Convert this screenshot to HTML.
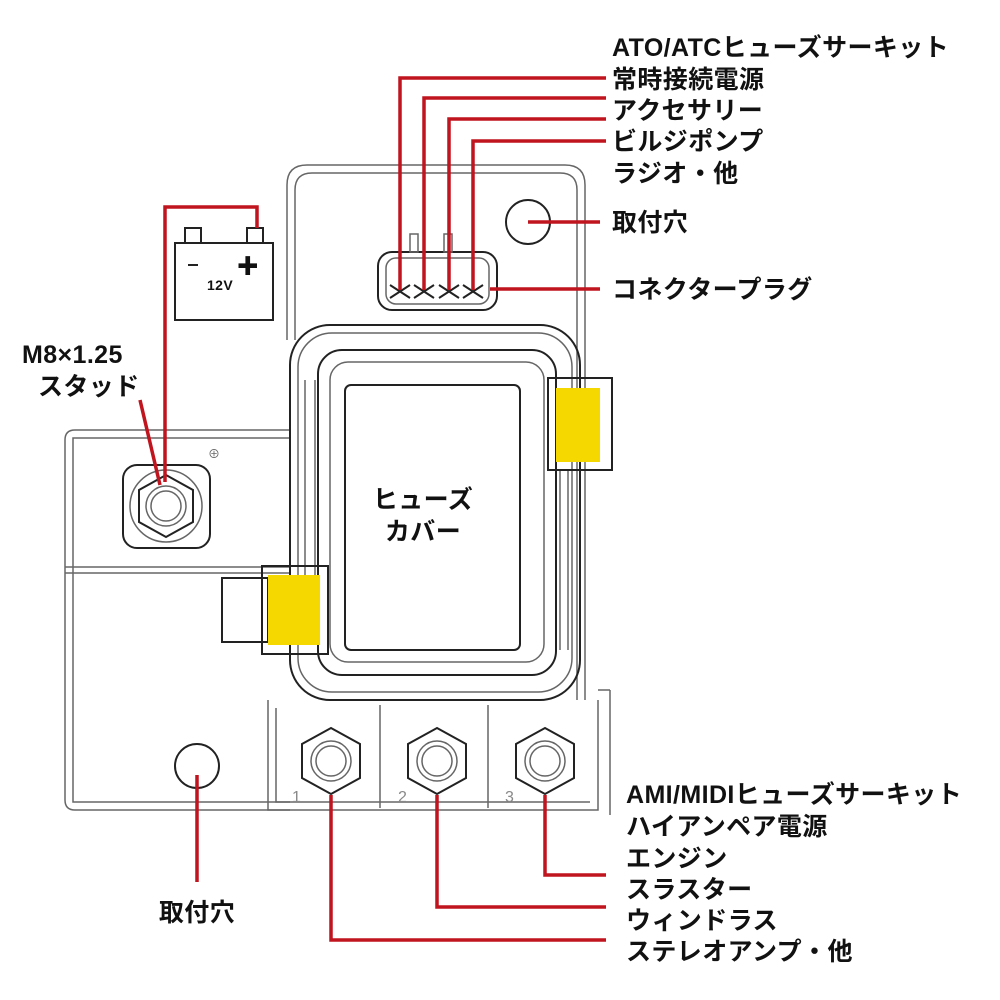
<!DOCTYPE html>
<html><head><meta charset="utf-8"><style>
body{margin:0;background:#fff}
svg{display:block}
text{font-family:"Liberation Sans","Noto Sans CJK JP",sans-serif;font-size:25px;font-weight:bold;fill:#111;letter-spacing:0.4px}
.g{fill:none;stroke:#666;stroke-width:1.5}
.k{fill:none;stroke:#222;stroke-width:2}
.r{fill:none;stroke:#c0141e;stroke-width:3.5}
</style></head><body>
<svg width="1000" height="1000" viewBox="0 0 1000 1000">
<path class="g" d="M290 430 H75 Q65 430 65 440 V800 Q65 810 75 810 H290"/>
<path class="g" d="M290 438 H73 V802 H290"/>
<line class="g" x1="65" y1="567" x2="290" y2="567"/><line class="g" x1="65" y1="573" x2="290" y2="573"/>
<path class="g" d="M287 340 V185 Q287 165 307 165 H565 Q585 165 585 185 V700"/>
<path class="g" d="M295 340 V190 Q295 173 312 173 H560 Q577 173 577 190 V700"/>
<rect class="k" x="175" y="243" width="98" height="77"/>
<rect class="k" x="185" y="228" width="16" height="15"/><rect class="k" x="247" y="228" width="16" height="15"/>
<line class="k" x1="188" y1="265" x2="198" y2="265"/>
<text x="248" y="274" style="font-size:22px" text-anchor="middle">✚</text>
<text x="207" y="290" style="font-size:14px">12V</text>
<rect class="k" x="123" y="465" width="87" height="83" rx="14"/>
<circle class="g" cx="166" cy="506" r="36"/>
<polygon class="k" points="166,475 193,490 193,522 166,537 139,522 139,490"/>
<circle class="g" cx="166" cy="506" r="20"/><circle class="g" cx="166" cy="506" r="15"/>
<text x="208" y="458" style="font-size:12px;font-weight:normal;fill:#666">⊕</text>
<rect class="k" x="290" y="325" width="290" height="375" rx="40"/>
<rect class="g" x="298" y="333" width="274" height="359" rx="34"/>
<rect class="k" x="318" y="350" width="238" height="325" rx="24"/>
<rect class="g" x="330" y="362" width="214" height="300" rx="18"/>
<rect class="k" x="345" y="385" width="175" height="265" rx="6"/>
<line class="g" x1="305" y1="380" x2="305" y2="640"/><line class="g" x1="315" y1="380" x2="315" y2="640"/>
<line class="g" x1="560" y1="470" x2="560" y2="650"/><line class="g" x1="568" y1="470" x2="568" y2="650"/>
<rect class="k" x="548" y="378" width="64" height="92"/>
<rect x="556" y="388" width="44" height="74" fill="#f5d800"/>
<rect class="k" x="222" y="578" width="46" height="64" fill="#fff"/>
<rect class="k" x="262" y="566" width="66" height="88"/>
<rect x="268" y="575" width="52" height="70" fill="#f5d800"/>
<rect class="k" x="378" y="252" width="119" height="58" rx="14"/>
<rect class="g" x="386" y="258" width="103" height="46" rx="10"/>
<rect class="g" x="410" y="234" width="8" height="18"/><rect class="g" x="444" y="234" width="8" height="18"/>
<g class="k"><path d="M390 285 L410 298 M410 285 L390 298 M414 285 L434 298 M434 285 L414 298 M439 285 L459 298 M459 285 L439 298 M463 285 L483 298 M483 285 L463 298"/></g>
<circle class="k" cx="528" cy="222" r="22"/>
<circle class="k" cx="197" cy="766" r="22"/>
<path class="g" d="M268 700 V810 H598 V700"/><path class="g" d="M276 708 V802 H590"/>
<line class="g" x1="380" y1="705" x2="380" y2="808"/><line class="g" x1="488" y1="705" x2="488" y2="808"/>
<line class="g" x1="598" y1="690" x2="610" y2="690"/><line class="g" x1="610" y1="690" x2="610" y2="815"/>
<g id="t">
<polygon class="k" points="331,728 360,744 360,778 331,794 302,778 302,744"/>
<circle class="g" cx="331" cy="761" r="20"/><circle class="g" cx="331" cy="761" r="15"/>
</g>
<use href="#t" x="106"/><use href="#t" x="214"/>
<text x="292" y="802" style="font-size:16px;fill:#888;font-weight:normal">1</text>
<text x="398" y="802" style="font-size:16px;fill:#888;font-weight:normal">2</text>
<text x="505" y="802" style="font-size:16px;fill:#888;font-weight:normal">3</text>
<path class="r" d="M400 290 V78 H606"/>
<path class="r" d="M424 290 V98 H606"/>
<path class="r" d="M449 290 V119 H606"/>
<path class="r" d="M473 290 V141 H606"/>
<path class="r" d="M490 289 H600"/>
<path class="r" d="M528 222 H600"/>
<path class="r" d="M257 228 V207 H165 V482"/>
<path class="r" d="M140 400 L160 485"/>
<path class="r" d="M197 775 V882"/>
<path class="r" d="M331 795 V940 H606"/>
<path class="r" d="M437 795 V907 H606"/>
<path class="r" d="M545 795 V875 H606"/>
<text x="612" y="56">ATO/ATCヒューズサーキット</text>
<text x="612" y="88">常時接続電源</text>
<text x="612" y="119">アクセサリー</text>
<text x="612" y="150">ビルジポンプ</text>
<text x="612" y="182">ラジオ・他</text>
<text x="612" y="231">取付穴</text>
<text x="612" y="298">コネクタープラグ</text>
<text x="22" y="363">M8×1.25</text>
<text x="38" y="395">スタッド</text>
<text x="423" y="508" text-anchor="middle">ヒューズ</text>
<text x="423" y="540" text-anchor="middle">カバー</text>
<text x="197" y="921" text-anchor="middle">取付穴</text>
<text x="626" y="803">AMI/MIDIヒューズサーキット</text>
<text x="626" y="835">ハイアンペア電源</text>
<text x="626" y="867">エンジン</text>
<text x="626" y="898">スラスター</text>
<text x="626" y="929">ウィンドラス</text>
<text x="626" y="960">ステレオアンプ・他</text>
</svg>
</body></html>
